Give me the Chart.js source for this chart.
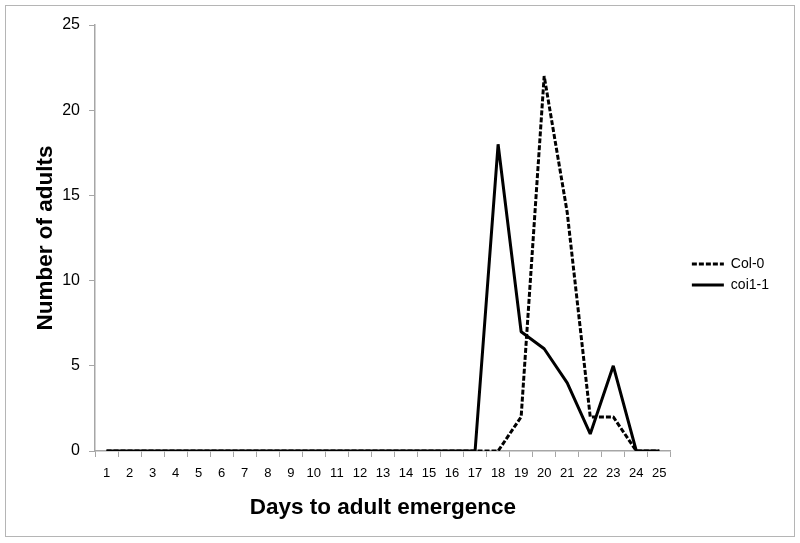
<!DOCTYPE html>
<html><head><meta charset="utf-8">
<script src="https://cdn.jsdelivr.net/npm/chart.js@4/dist/chart.umd.min.js"></script>
<style>html,body{margin:0;padding:0;background:#fff}#wrap{width:800px;height:543px;position:relative}</style>
</head><body><div id="wrap"><canvas id="c" width="800" height="543"></canvas></div>
<script>
const days = ['1','2','3','4','5','6','7','8','9','10','11','12','13','14','15','16','17','18','19','20','21','22','23','24','25'];
const col0 = [0,0,0,0,0,0,0,0,0,0,0,0,0,0,0,0,0,0,2,22,14,2,2,0,0];
const coi11 = [0,0,0,0,0,0,0,0,0,0,0,0,0,0,0,0,0,18,7,6,4,1,5,0,0];
const yTicks = [0,5,10,15,20,25];

const border = {
  id:'border',
  beforeDraw(chart){
    const ctx = chart.ctx; ctx.save();
    ctx.strokeStyle = '#b5b5b5'; ctx.lineWidth = 1;
    ctx.strokeRect(5.5,5.5,789,531); ctx.restore();
  }
};
const FONT = "'Liberation Sans', Arial, sans-serif";
Chart.defaults.font.family = FONT;
new Chart(document.getElementById('c'), {
  type:'line',
  data:{labels:days, datasets:[
    {label:'Col-0', data:col0, borderColor:'#000', backgroundColor:'#000', borderWidth:3, borderDash:[5,2], borderJoinStyle:'bevel', pointRadius:0, pointStyle:'line', tension:0},
    {label:'coi1-1', data:coi11, borderColor:'#000', backgroundColor:'#000', borderWidth:3, borderJoinStyle:'bevel', pointRadius:0, pointStyle:'line', tension:0}
  ]},
  options:{
    responsive:false, animation:false,
    layout:{padding:{top:25,left:32,right:21,bottom:19}},
    plugins:{
      legend:{position:'right', labels:{usePointStyle:true, pointStyleWidth:32, boxWidth:32, padding:7, color:'#000', font:{size:14, family:FONT},
        generateLabels(chart){
          return chart.data.datasets.map((ds,i)=>({text:ds.label, fillStyle:'#000', strokeStyle:'#000', lineWidth:3, lineDash:ds.borderDash||[], pointStyle:'line', datasetIndex:i, hidden:false, fontColor:'#000'}));
        }}},
      tooltip:{enabled:false}
    },
    scales:{
      x:{offset:true, grid:{offset:true, drawOnChartArea:false, tickLength:6, color:'#a6a6a6'}, border:{color:'#a6a6a6', width:1.5},
         ticks:{color:'#000', font:{size:13}, maxRotation:0, autoSkip:false, padding:9},
         title:{display:true, text:'Days to adult emergence', color:'#000', font:{size:22.5, weight:'bold'}, padding:{top:0, bottom:3}},
         afterFit:s=>{s.height=73;}},
      y:{min:0, max:25, afterBuildTicks:s=>{s.ticks = yTicks.map(v=>({value:v}));}, grid:{drawOnChartArea:false, tickLength:6, color:'#a6a6a6'}, border:{color:'#a6a6a6', width:1.5},
         ticks:{color:'#000', font:{size:16}, padding:9},
         title:{display:true, text:'Number of adults', color:'#000', font:{size:22.5, weight:'bold'}, padding:{top:0, bottom:0}},
         afterFit:s=>{s.width=63;}},
      y2:{position:'right', display:true, grid:{display:false}, border:{display:false}, ticks:{display:false}, afterFit:s=>{s.width=14;}}
    }
  },
  plugins:[border]
});
</script></body></html>
